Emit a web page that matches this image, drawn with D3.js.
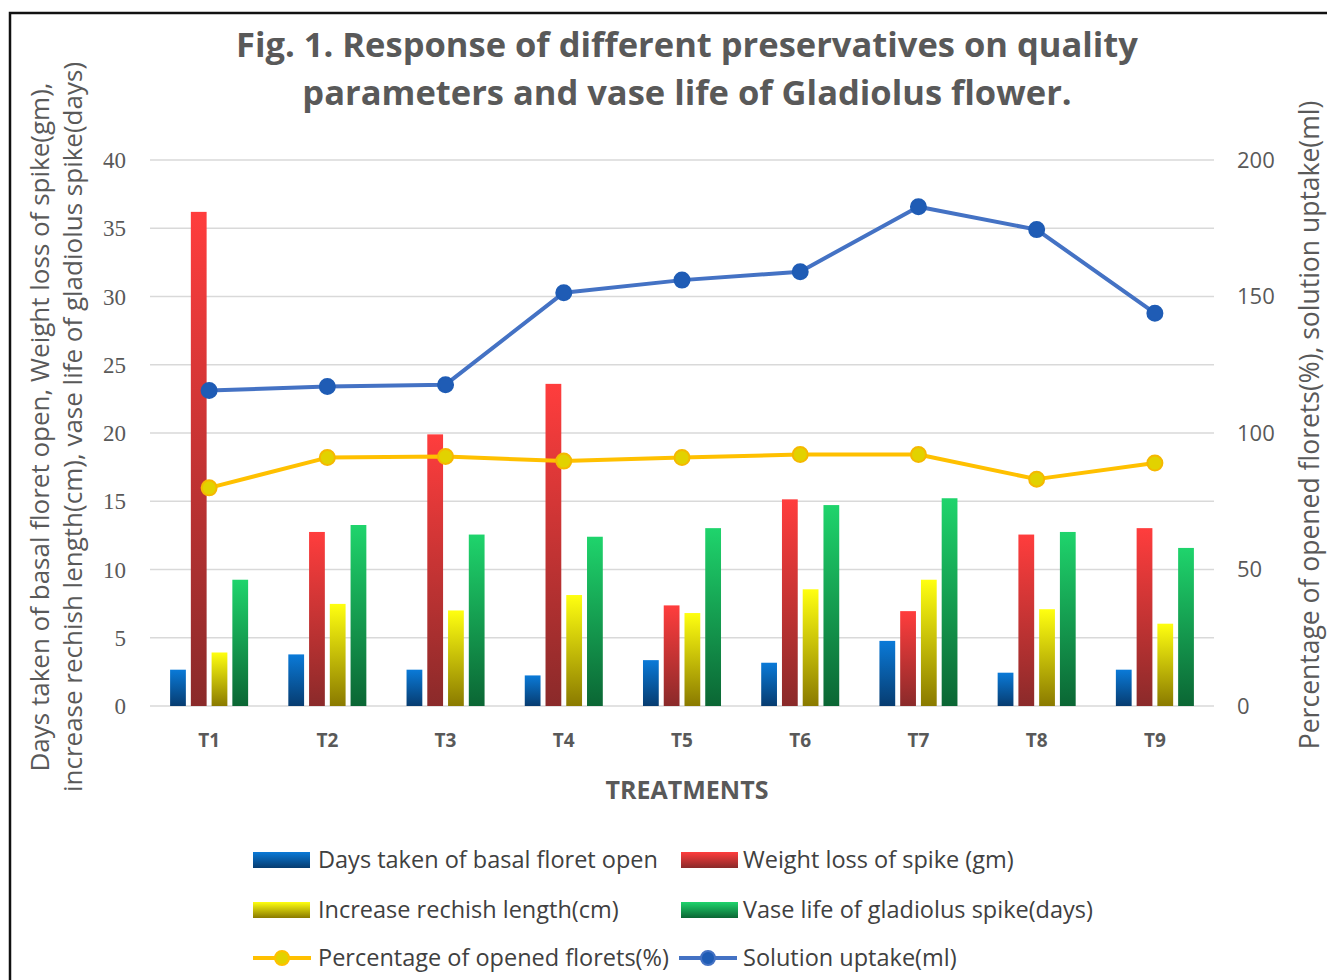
<!DOCTYPE html>
<html><head><meta charset="utf-8">
<script src="https://cdn.jsdelivr.net/npm/d3@7"></script>
<style>body{margin:0;background:#fff}svg{display:block}</style>
</head><body>
<svg id="c" width="1327" height="980"></svg>
<script>
const categories = ["T1","T2","T3","T4","T5","T6","T7","T8","T9"];
const daysBasal   = [2.66, 3.78, 2.66, 2.24, 3.36, 3.17, 4.77, 2.44, 2.66];
const weightLoss  = [36.2, 12.75, 19.9, 23.6, 7.37, 15.14, 6.95, 12.56, 13.03];
const rachisLen   = [3.92, 7.48, 7.0, 8.13, 6.81, 8.55, 9.25, 7.09, 6.03];
const vaseLife    = [9.25, 13.26, 12.56, 12.4, 13.03, 14.72, 15.22, 12.75, 11.58];
const pctOpened   = [79.9, 91.0, 91.4, 89.7, 91.0, 92.1, 92.1, 83.1, 89.0];
const uptake      = [115.6, 117.0, 117.7, 151.4, 156.0, 159.1, 182.9, 174.5, 143.9];
const leftTicks   = [0,5,10,15,20,25,30,35,40];
const rightTicks  = [0,50,100,150,200];
const barNames = ["Days taken of basal floret open","Weight loss of spike (gm)","Increase rechish length(cm)","Vase life of gladiolus spike(days)"];
const lineNames = ["Percentage of opened florets(%)","Solution uptake(ml)"];

const barSeries = [daysBasal, weightLoss, rachisLen, vaseLife];
const grads = [["#0a7ad8","#073c70"],["#ff3d3d","#8a2a2a"],["#ffff10","#8a7a00"],["#1fd46c","#0b6634"]];

const svg = d3.select("#c");
const F = "'Open Sans', Lato, sans-serif";
const gray = "#595959";

svg.append("rect").attr("x",10).attr("y",13).attr("width",1340).attr("height",1000)
  .attr("fill","none").attr("stroke","#111").attr("stroke-width",2.5);

const defs = svg.append("defs");
grads.forEach((g,i)=>{
  const lgr = defs.append("linearGradient").attr("id","g"+i).attr("x1",0).attr("y1",0).attr("x2",0).attr("y2",1);
  lgr.append("stop").attr("offset","0%").attr("stop-color",g[0]);
  lgr.append("stop").attr("offset","100%").attr("stop-color",g[1]);
});

const pLeft = 150, pRight = 1214, pTop = 160, pBottom = 706;
const x0 = d3.scaleBand().domain(categories).range([pLeft,pRight]).paddingInner(0.34).paddingOuter(0.17);
const x1 = d3.scaleBand().domain([0,1,2,3]).range([0,x0.bandwidth()]).paddingInner(0.24);
const yL = d3.scaleLinear().domain([0,40]).range([pBottom,pTop]);
const yR = d3.scaleLinear().domain([0,200]).range([pBottom,pTop]);

svg.append("g").selectAll("line").data(leftTicks).join("line")
  .attr("x1",pLeft).attr("x2",pRight).attr("y1",d=>yL(d)).attr("y2",d=>yL(d))
  .attr("stroke","#d9d9d9").attr("stroke-width",1.5);

svg.append("g").selectAll("text").data(leftTicks).join("text")
  .attr("x",126).attr("y",d=>yL(d)).attr("dy","0.35em").attr("text-anchor","end")
  .attr("font-family","'Liberation Serif', serif").attr("font-size",23).attr("fill",gray).text(d=>d);
svg.append("g").selectAll("text").data(rightTicks).join("text")
  .attr("x",1237).attr("y",d=>yR(d)).attr("dy","0.35em").attr("text-anchor","start")
  .attr("font-family",F).attr("font-size",22).attr("fill",gray).text(d=>d);

barSeries.forEach((s,i)=>{
  svg.append("g").selectAll("rect").data(s).join("rect")
    .attr("x",(d,j)=>x0(categories[j])+x1(i)).attr("width",x1.bandwidth())
    .attr("y",d=>yL(d)).attr("height",d=>pBottom-yL(d))
    .attr("fill","url(#g"+i+")");
});

function drawLine(data, color, mfill, mstroke){
  const line = d3.line().x((d,j)=>x0(categories[j])+x0.bandwidth()/2).y(d=>yR(d));
  svg.append("path").datum(data).attr("d",line).attr("fill","none")
    .attr("stroke",color).attr("stroke-width",4).attr("stroke-linejoin","round");
  svg.append("g").selectAll("circle").data(data).join("circle")
    .attr("cx",(d,j)=>x0(categories[j])+x0.bandwidth()/2).attr("cy",d=>yR(d)).attr("r",7.5)
    .attr("fill",mfill).attr("stroke",mstroke).attr("stroke-width",2);
}
drawLine(pctOpened, "#ffc000", "#e2d200", "#f5b800");
drawLine(uptake, "#4472c4", "#1f5cb5", "#1f5cb5");

svg.append("g").selectAll("text").data(categories).join("text")
  .attr("x",d=>x0(d)+x0.bandwidth()/2).attr("y",740).attr("dy","0.35em").attr("text-anchor","middle")
  .attr("font-family",F).attr("font-weight","bold").attr("font-size",19).attr("fill",gray).text(d=>d);

svg.append("text").attr("x",687).attr("y",790).attr("dy","0.35em").attr("text-anchor","middle")
  .attr("font-family",F).attr("font-weight","bold").attr("font-size",25).attr("fill",gray).text("TREATMENTS");

const title = svg.append("text").attr("text-anchor","middle").attr("font-family",F)
  .attr("font-weight","bold").attr("font-size",34.5).attr("fill",gray);
title.append("tspan").attr("x",687).attr("y",57).text("Fig. 1. Response of different preservatives on quality");
title.append("tspan").attr("x",687).attr("y",105).text("parameters and vase life of Gladiolus flower.");

const lt = svg.append("text").attr("transform","translate(0,427) rotate(-90)").attr("text-anchor","middle")
  .attr("font-family",F).attr("font-size",26).attr("fill",gray);
lt.append("tspan").attr("x",0).attr("y",49).text("Days taken of basal floret open, Weight loss of spike(gm),");
lt.append("tspan").attr("x",0).attr("y",82).text("increase rechish  length(cm), vase life of gladiolus spike(days)");

svg.append("text").attr("transform","translate(1319,425) rotate(-90)").attr("text-anchor","middle")
  .attr("font-family",F).attr("font-size",26.5).attr("fill",gray)
  .text("Percentage of opened florets(%), solution uptake(ml)");

const legItems = [
  {name:barNames[0], type:"bar", i:0, x:253, y:860},
  {name:barNames[1], type:"bar", i:1, x:681, y:860},
  {name:barNames[2], type:"bar", i:2, x:253, y:910},
  {name:barNames[3], type:"bar", i:3, x:681, y:910},
  {name:lineNames[0], type:"line", color:"#ffc000", mf:"#e2d200", x:253, y:958},
  {name:lineNames[1], type:"line", color:"#4472c4", mf:"#1f5cb5", x:679, y:958}
];
const lg = svg.append("g");
legItems.forEach(it=>{
  if(it.type==="bar"){
    lg.append("rect").attr("x",it.x).attr("y",it.y-8).attr("width",57).attr("height",16).attr("fill","url(#g"+it.i+")");
  } else {
    lg.append("line").attr("x1",it.x).attr("x2",it.x+58).attr("y1",it.y).attr("y2",it.y).attr("stroke",it.color).attr("stroke-width",4);
    lg.append("circle").attr("cx",it.x+29).attr("cy",it.y).attr("r",7).attr("fill",it.mf).attr("stroke",it.color).attr("stroke-width",2);
  }
  lg.append("text").attr("x",(it.x<400?318:743)).attr("y",it.y).attr("dy","0.35em")
    .attr("font-family",F).attr("font-size",23.5).attr("fill","#404040").text(it.name);
});
</script>
</body></html>
